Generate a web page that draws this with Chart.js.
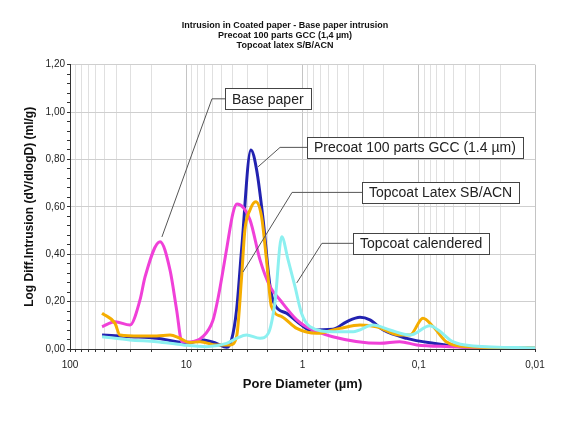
<!DOCTYPE html>
<html>
<head>
<meta charset="utf-8">
<script src="https://cdn.jsdelivr.net/npm/chart.js@4"></script>
<style>
  body { margin: 0; background: #fff; }
  canvas { display: block; }
</style>
</head>
<body>
<canvas id="chart" width="562" height="421"></canvas>
<script>
// pore diameter (µm) and log differential intrusion (ml/g)
const baseDiam = [53, 41, 30.5, 25, 22.6, 16.8, 13.8, 12.1, 10.9, 9.3, 7.2, 5.9, 5.3, 4.5, 3.96, 3.66, 2.83, 2.32, 1.9, 1.56, 1.12, 0.93, 0.55, 0.216, 0.146, 0.104, 0.054, 0.03, 0.01];
const baseVal = [0.094, 0.115, 0.101, 0.207, 0.305, 0.453, 0.334, 0.165, 0.031, 0.030, 0.052, 0.120, 0.220, 0.420, 0.575, 0.612, 0.545, 0.376, 0.263, 0.207, 0.123, 0.094, 0.052, 0.024, 0.031, 0.017, 0.010, 0.006, 0.005];

const precoatDiam = [53, 30.5, 18, 12.1, 9.9, 7.2, 5.5, 4.5, 4.08, 3.69, 3.34, 2.78, 2.48, 2.18, 1.9, 1.73, 1.37, 1.02, 0.86, 0.55, 0.418, 0.32, 0.263, 0.202, 0.127, 0.075, 0.044, 0.025, 0.01];
const precoatVal = [0.059, 0.052, 0.045, 0.031, 0.024, 0.038, 0.024, 0.007, 0.038, 0.165, 0.420, 0.840, 0.756, 0.545, 0.263, 0.186, 0.151, 0.101, 0.080, 0.083, 0.115, 0.134, 0.123, 0.080, 0.045, 0.024, 0.010, 0.004, 0.003];

const latexDiam = [53, 41, 37.2, 25, 18, 13.8, 11.3, 9.3, 7.6, 5.5, 4.2, 3.69, 3.34, 3.13, 2.83, 2.52, 2.25, 2.04, 1.85, 1.51, 1.12, 0.757, 0.476, 0.32, 0.231, 0.146, 0.119, 0.092, 0.075, 0.058, 0.039, 0.01];
const latexVal = [0.151, 0.108, 0.059, 0.055, 0.055, 0.059, 0.045, 0.027, 0.031, 0.017, 0.017, 0.052, 0.305, 0.503, 0.587, 0.622, 0.559, 0.376, 0.179, 0.137, 0.087, 0.066, 0.087, 0.101, 0.094, 0.059, 0.059, 0.130, 0.094, 0.031, 0.010, 0.005];

const calDiam = [53, 30.5, 18, 10.6, 6.7, 4.5, 3.69, 3.03, 2.32, 1.97, 1.73, 1.51, 1.33, 1.16, 1.02, 0.86, 0.55, 0.366, 0.247, 0.177, 0.119, 0.08, 0.068, 0.051, 0.034, 0.01];
const calVal = [0.052, 0.038, 0.031, 0.017, 0.010, 0.024, 0.045, 0.059, 0.045, 0.066, 0.193, 0.474, 0.376, 0.263, 0.151, 0.094, 0.073, 0.073, 0.101, 0.080, 0.059, 0.098, 0.080, 0.031, 0.013, 0.005];

const titleLines = ['Intrusion in Coated paper - Base paper intrusion', 'Precoat 100 parts GCC (1,4 µm)', 'Topcoat latex S/B/ACN'];
const seriesNames = ['Base paper', 'Precoat 100 parts GCC (1.4 µm)', 'Topcoat Latex SB/ACN', 'Topcoat calendered'];

const font = '"Liberation Sans", Arial, sans-serif';
const toXY = (xs, ys) => xs.map((d, i) => ({ x: d, y: ys[i] }));
const comma = (v, d) => v.toFixed(d).replace('.', ',');
const isDecade = v => Math.abs(Math.log10(v) - Math.round(Math.log10(v))) < 1e-9;
const isMajorY = v => Math.abs(v / 0.2 - Math.round(v / 0.2)) < 1e-6;

// boxed labels with leader lines, anchored in data units
const callouts = {
    id: 'callouts',
    afterDatasetsDraw(chart, args, opts) {
        const { ctx, scales: { x, y } } = chart;
        ctx.save();
        ctx.font = '14px ' + font;
        ctx.textBaseline = 'middle';
        opts.items.forEach(c => {
            const bx = Math.round(x.getPixelForValue(c.boxX));
            const by = y.getPixelForValue(c.boxY);
            const ex = x.getPixelForValue(c.elbowX);
            const tx = x.getPixelForValue(c.tipX);
            const ty = y.getPixelForValue(c.tipY);
            ctx.strokeStyle = '#555';
            ctx.lineWidth = 1;
            ctx.beginPath();
            ctx.moveTo(tx, ty);
            ctx.lineTo(ex, by);
            ctx.lineTo(bx, by);
            ctx.stroke();
            const w = Math.round(ctx.measureText(c.text).width + 14);
            const h = 21;
            const top = Math.round(by - h / 2);
            ctx.fillStyle = '#fff';
            ctx.fillRect(bx, top, w, h);
            ctx.strokeStyle = '#444';
            ctx.strokeRect(bx + 0.5, top + 0.5, w, h);
            ctx.fillStyle = '#222';
            ctx.fillText(c.text, bx + 7, by + 1);
        });
        ctx.restore();
    }
};

const datasets = [
    { data: toXY(calDiam, calVal), borderColor: '#8cf0f0' },
    { data: toXY(latexDiam, latexVal), borderColor: '#f5ad00' },
    { data: toXY(baseDiam, baseVal), borderColor: '#f040d8' },
    { data: toXY(precoatDiam, precoatVal), borderColor: '#2222b0' },
].map(d => Object.assign(d, {
    borderWidth: 3,
    pointRadius: 0,
    fill: false,
    cubicInterpolationMode: 'monotone',
}));

new Chart(document.getElementById('chart').getContext('2d'), {
    type: 'line',
    data: { datasets },
    options: {
        responsive: false,
        animation: false,
        layout: { padding: { left: 35, right: 27, top: 0, bottom: 0 } },
        plugins: {
            legend: { display: false },
            tooltip: { enabled: false },
            title: {
                display: true,
                text: titleLines,
                color: '#111',
                font: { family: font, size: 9, weight: 'bold', lineHeight: 1.1 },
                padding: { top: 21, bottom: 14 },
            },
            callouts: {
                items: [
                    { text: seriesNames[0], boxX: 4.64, boxY: 1.056, elbowX: 6.01, tipX: 16.2, tipY: 0.473 },
                    { text: seriesNames[1], boxX: 0.916, boxY: 0.851, elbowX: 1.56, tipX: 2.41, tipY: 0.769 },
                    { text: seriesNames[2], boxX: 0.308, boxY: 0.661, elbowX: 1.23, tipX: 3.25, tipY: 0.325 },
                    { text: seriesNames[3], boxX: 0.369, boxY: 0.446, elbowX: 0.681, tipX: 1.12, tipY: 0.279 },
                ],
            },
        },
        scales: {
            x: {
                type: 'logarithmic',
                reverse: true,
                min: 0.01,
                max: 100,
                afterFit: s => { s.height = 72; },
                afterBuildTicks: s => {
                    const t = [];
                    for (let e = -2; e <= 1; e++) {
                        for (let m = 1; m <= 9; m++) t.push({ value: +(m * Math.pow(10, e)).toPrecision(3) });
                    }
                    t.push({ value: 100 });
                    s.ticks = t;
                },
                ticks: {
                    autoSkip: false,
                    maxRotation: 0,
                    padding: 7,
                    color: '#222',
                    font: { family: font, size: 10 },
                    callback: v => isDecade(v) ? (v >= 1 ? String(v) : comma(v, Math.round(-Math.log10(v)))) : '',
                },
                grid: {
                    color: c => isDecade(c.tick.value) ? '#c4c4c4' : '#e0e0e0',
                    tickColor: '#333',
                    tickLength: 3,
                },
                border: { color: '#333', width: 1 },
                title: {
                    display: true,
                    text: 'Pore Diameter (µm)',
                    color: '#111',
                    font: { family: font, size: 13, weight: 'bold' },
                    padding: { top: 0, bottom: 29 },
                },
            },
            y: {
                min: 0,
                max: 1.2,
                afterFit: s => { s.width = 35; },
                afterBuildTicks: s => {
                    const t = [];
                    for (let k = 0; k <= 30; k++) t.push({ value: +(k * 0.04).toFixed(2) });
                    s.ticks = t;
                },
                ticks: {
                    autoSkip: false,
                    padding: 2,
                    color: '#222',
                    font: { family: font, size: 10 },
                    callback: v => isMajorY(v) ? comma(v, 2) : '',
                },
                grid: {
                    color: c => isMajorY(c.tick.value) ? '#cfcfcf' : 'rgba(0,0,0,0)',
                    tickColor: '#333',
                    tickLength: 3,
                },
                border: { color: '#333', width: 1 },
                title: {
                    display: true,
                    text: 'Log Diff.Intrusion (dV/dlogD) (ml/g)',
                    color: '#111',
                    font: { family: font, size: 12, weight: 'bold' },
                    padding: { top: -13, bottom: 0 },
                },
            },
        },
    },
    plugins: [callouts],
});
</script>
</body>
</html>
